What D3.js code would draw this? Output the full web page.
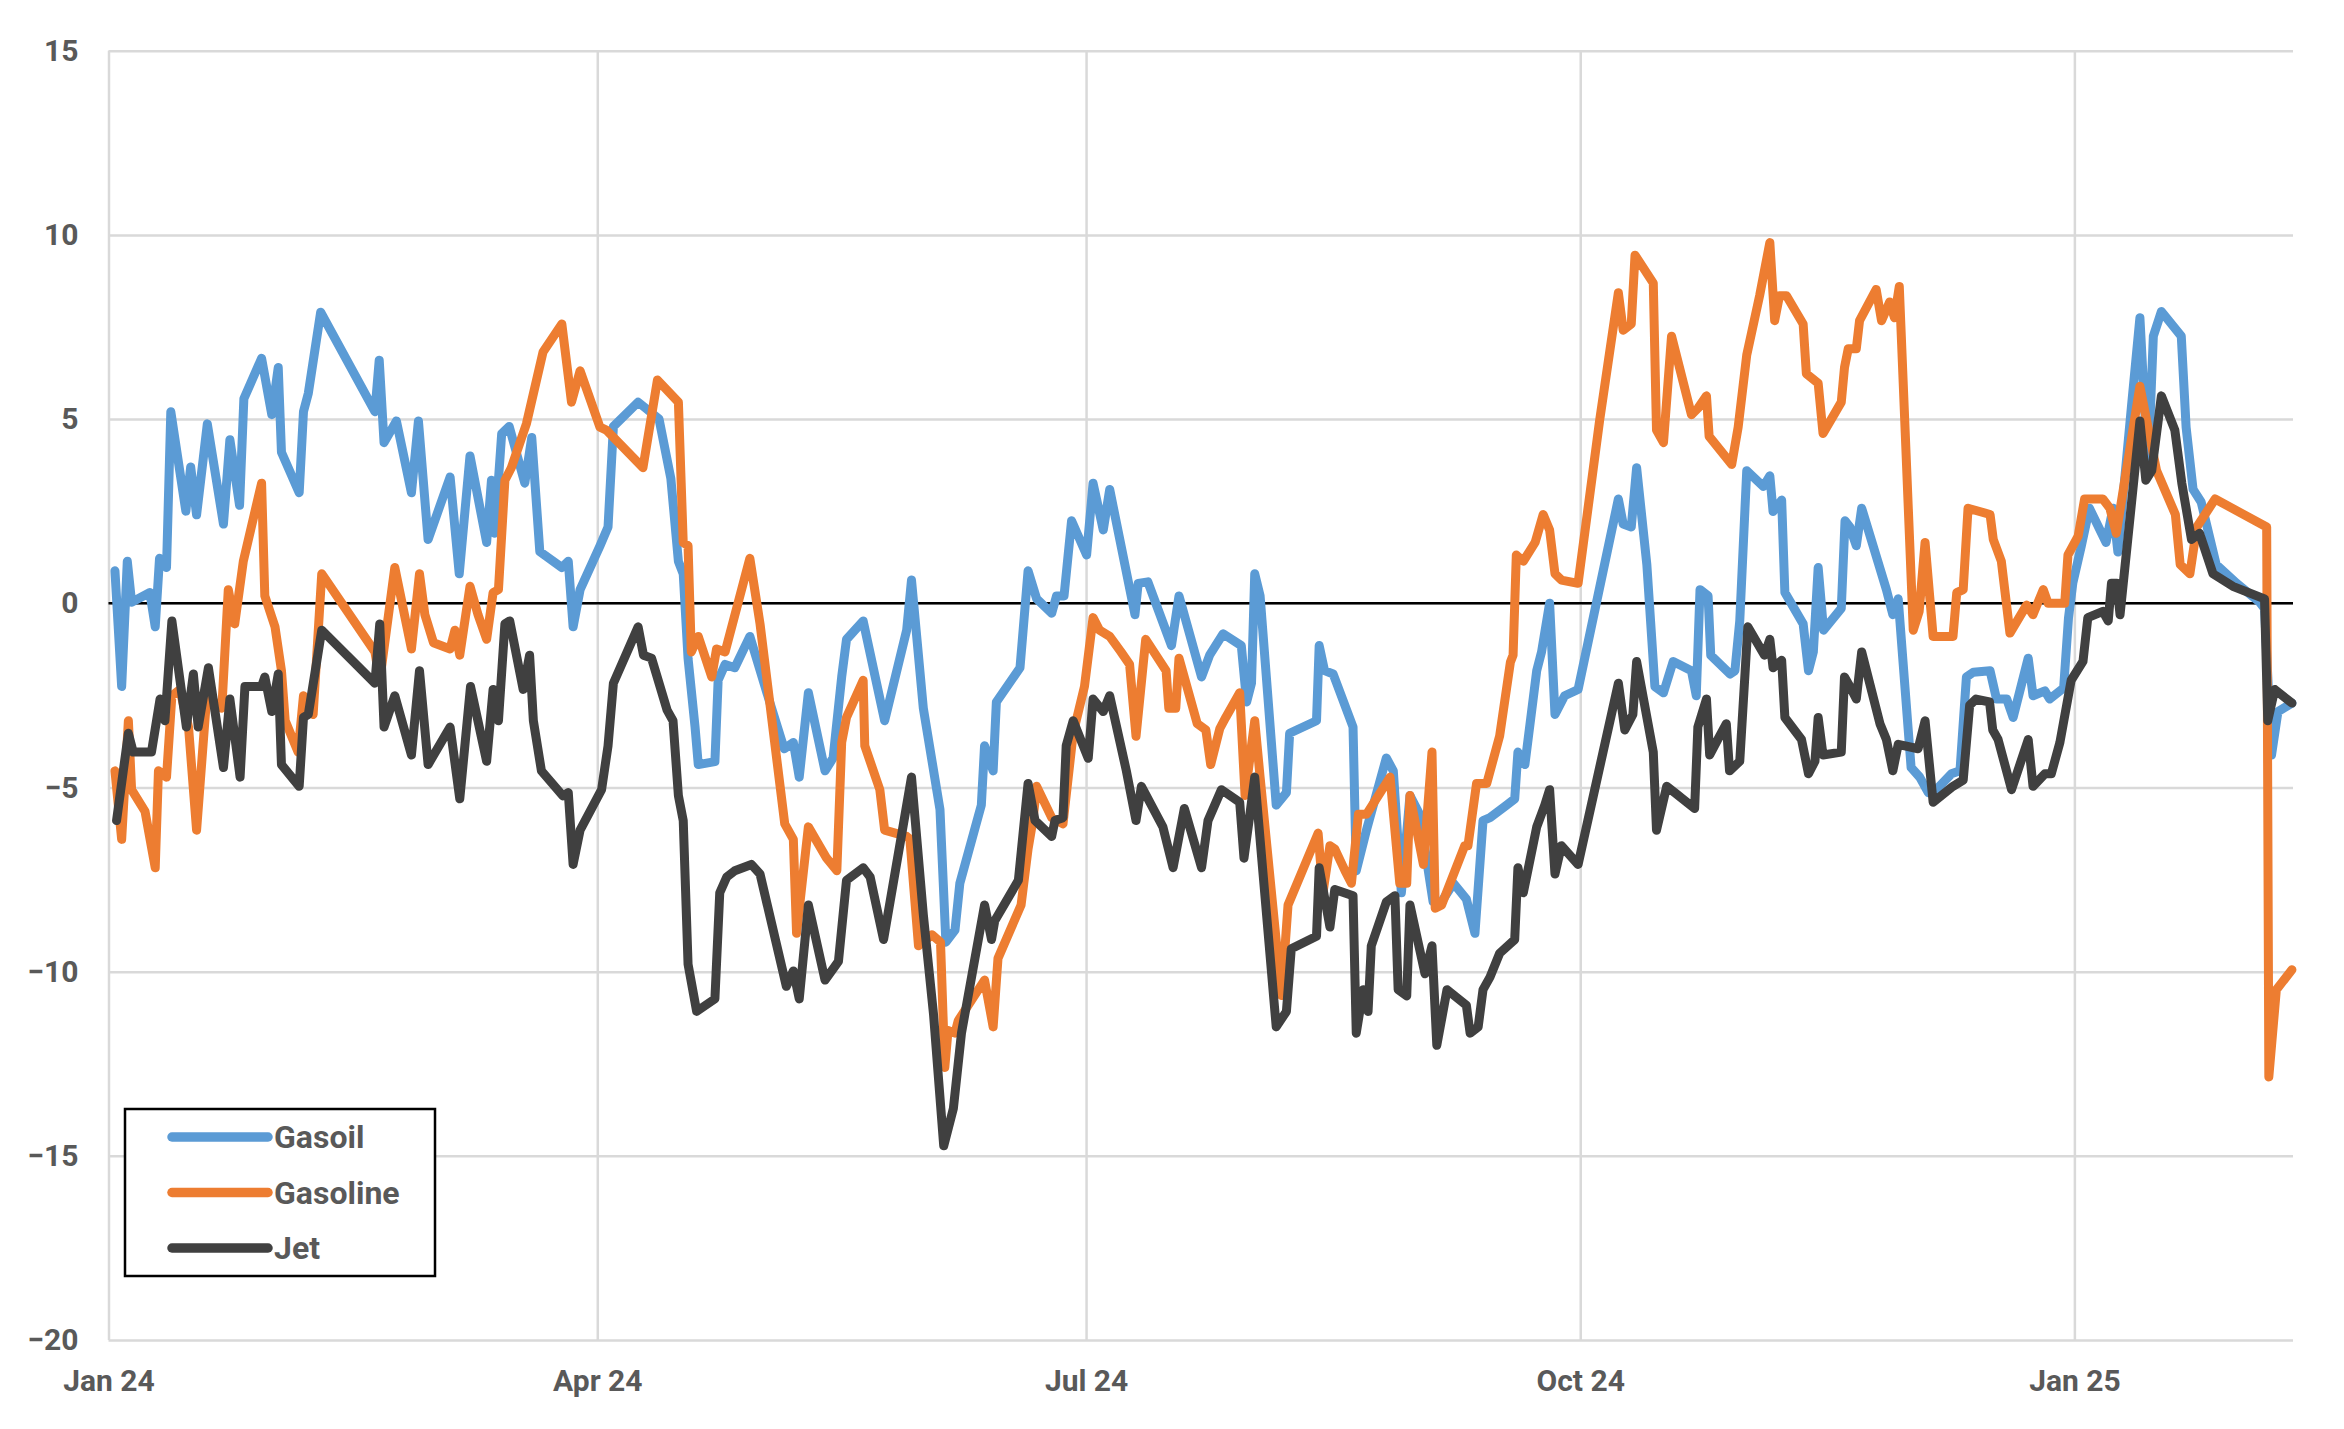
<!DOCTYPE html>
<html>
<head>
<meta charset="utf-8">
<script src="https://cdn.jsdelivr.net/npm/d3@7"></script>
<style>
  body { margin: 0; background: #fff; }
  text { font-family: Roboto, "Noto Sans", sans-serif; }
</style>
</head>
<body>
<div class="chart"></div>
<script>
// days counted from 1 Jan 2024 at each turning point
var gasoilDays = [1.2, 2.45, 3.5, 4.3, 7.7, 8.7, 9.5, 10.8, 11.6, 14.4, 15.3, 16.4, 18.4, 21.4, 22.6, 24.4, 25.2, 28.5, 30.4, 31.6, 32.2, 35.5, 36.3, 37.2, 39.5, 49.6, 50.4, 51.3, 53.6, 56.4, 57.7, 59.5, 63.6, 65.3, 67.3, 70.4, 71.3, 71.9, 73.2, 74.6, 77.5, 78.8, 80.3, 84.4, 85.6, 86.5, 87.8, 91.5, 93.0, 94.0, 98.6, 102.5, 104.7, 106.1, 107.0, 107.9, 109.2, 109.8, 112.9, 113.5, 114.8, 116.6, 119.4, 123.1, 125.8, 127.5, 128.6, 130.3, 133.4, 134.9, 136.5, 137.4, 140.5, 144.5, 148.6, 149.5, 151.7, 154.8, 155.9, 157.6, 158.5, 162.5, 163.1, 164.7, 165.3, 169.7, 171.2, 172.8, 175.6, 176.5, 177.9, 179.3, 182.1, 183.3, 185.2, 186.4, 191.1, 191.7, 193.5, 197.9, 199.3, 203.5, 205.0, 207.5, 210.9, 211.9, 212.8, 213.4, 214.4, 217.4, 219.3, 219.9, 224.9, 225.4, 226.4, 228.0, 231.7, 232.3, 234.2, 237.9, 239.2, 240.7, 242.3, 244.1, 246.6, 248.2, 250.4, 252.8, 254.4, 255.9, 257.2, 260.3, 261.8, 262.4, 263.7, 265.9, 266.8, 268.3, 269.3, 271.1, 273.6, 281.1, 282.0, 283.5, 284.5, 286.4, 287.9, 289.5, 291.3, 294.7, 295.6, 296.3, 297.8, 298.3, 301.9, 302.8, 303.7, 305.0, 308.1, 309.3, 309.9, 311.5, 312.1, 315.5, 316.5, 317.4, 318.3, 319.3, 322.6, 323.3, 324.2, 325.4, 326.4, 331.0, 332.2, 333.2, 335.6, 337.2, 338.8, 340.3, 343.1, 344.7, 345.9, 347.2, 350.3, 351.5, 353.4, 354.6, 357.4, 358.3, 360.5, 361.4, 364.0, 364.9, 365.7, 367.3, 368.8, 371.9, 373.2, 374.1, 376.6, 378.2, 379.7, 380.7, 382.2, 385.9, 386.8, 388.1, 389.6, 392.4, 396.2, 400.5, 401.4, 402.7, 403.9, 406.5];
var gasoilValues = [0.88, -2.26, 1.14, 0.03, 0.29, -0.64, 1.22, 0.97, 5.2, 2.5, 3.7, 2.4, 4.87, 2.15, 4.44, 2.66, 5.55, 6.65, 5.12, 6.4, 4.1, 3.0, 5.2, 5.7, 7.9, 5.2, 6.6, 4.36, 4.95, 3.0, 4.95, 1.73, 3.43, 0.8, 4.0, 1.65, 3.34, 1.9, 4.6, 4.8, 3.26, 4.5, 1.4, 0.97, 1.14, -0.64, 0.37, 1.56, 2.07, 4.8, 5.46, 5.0, 3.38, 1.14, 0.8, -1.5, -3.36, -4.38, -4.3, -2.09, -1.66, -1.75, -0.9, -2.68, -3.95, -3.78, -4.72, -2.43, -4.55, -4.2, -2.0, -0.98, -0.48, -3.19, -0.73, 0.63, -2.85, -5.6, -9.2, -8.87, -7.6, -5.48, -3.87, -4.55, -2.68, -1.75, 0.88, 0.12, -0.27, 0.2, 0.2, 2.24, 1.31, 3.26, 1.99, 3.09, -0.31, 0.54, 0.58, -1.15, 0.2, -2.0, -1.41, -0.83, -1.15, -2.68, -2.17, 0.8, 0.2, -5.48, -5.14, -3.53, -3.19, -1.15, -1.83, -1.92, -3.36, -7.26, -6.16, -4.2, -4.55, -7.86, -5.22, -5.73, -8.1, -8.1, -7.6, -8.03, -8.96, -5.9, -5.82, -5.48, -5.31, -4.04, -4.38, -1.83, -1.32, 0.0, -3.02, -2.51, -2.34, 2.83, 2.15, 2.07, 3.68, 1.05, -2.26, -2.43, -1.58, -1.83, -2.51, 0.37, 0.2, -1.41, -1.92, -1.83, -0.48, 3.6, 3.17, 3.46, 2.49, 2.8, 0.29, -0.56, -1.83, -1.32, 0.97, -0.73, -0.14, 2.24, 2.07, 1.56, 2.58, 0.37, -0.31, 0.12, -4.46, -4.72, -5.14, -5.06, -4.63, -4.55, -2.0, -1.87, -1.83, -2.6, -2.6, -3.1, -1.49, -2.51, -2.38, -2.6, -2.3, -0.4, 0.54, 1.56, 2.58, 1.65, 2.58, 1.39, 5.3, 7.75, 3.6, 7.25, 7.92, 7.25, 4.78, 3.09, 2.75, 1.05, 0.54, 0.03, -0.14, -4.12, -2.94, -2.71];

var gasolineDays = [1.2, 2.45, 3.7, 4.3, 6.8, 8.7, 9.3, 10.8, 11.8, 13.3, 14.9, 16.4, 18.3, 21.1, 22.3, 23.5, 25.1, 28.5, 29.1, 31.0, 32.2, 32.9, 35.3, 36.3, 38.1, 39.7, 49.6, 50.5, 53.3, 56.4, 57.9, 58.9, 60.5, 63.6, 64.5, 65.4, 67.3, 68.8, 70.4, 71.6, 72.6, 73.8, 75.0, 77.8, 80.9, 84.4, 86.2, 87.8, 91.5, 92.7, 99.5, 102.2, 106.1, 107.0, 107.9, 108.5, 109.8, 112.3, 113.2, 114.8, 119.4, 121.3, 125.9, 127.5, 128.1, 130.3, 133.7, 135.6, 136.5, 137.4, 140.5, 140.8, 143.6, 144.5, 148.6, 149.2, 150.8, 153.3, 154.9, 155.7, 156.3, 157.6, 158.2, 163.1, 164.7, 165.6, 169.9, 171.2, 172.1, 172.8, 175.6, 177.7, 179.6, 181.7, 183.3, 184.5, 186.4, 188.5, 190.1, 191.3, 193.1, 196.9, 197.4, 198.7, 199.3, 202.7, 204.3, 205.2, 206.9, 208.0, 210.6, 211.6, 212.5, 213.4, 214.4, 218.4, 219.6, 225.2, 226.1, 227.4, 228.3, 230.2, 231.4, 232.7, 234.2, 238.6, 240.4, 241.7, 242.3, 244.8, 246.4, 247.0, 248.2, 252.5, 253.1, 254.7, 256.6, 259.0, 261.0, 261.5, 262.1, 263.4, 265.6, 267.1, 268.3, 269.3, 270.5, 273.6, 277.6, 281.1, 282.0, 283.5, 284.2, 287.6, 288.2, 289.5, 291.0, 294.7, 295.9, 297.5, 298.0, 302.2, 303.4, 305.0, 307.4, 309.3, 310.2, 311.1, 312.4, 315.5, 316.1, 318.3, 319.2, 322.6, 323.2, 323.9, 325.4, 326.0, 329.1, 330.1, 331.6, 332.5, 333.4, 336.0, 337.1, 338.2, 339.7, 343.4, 344.1, 345.3, 346.2, 350.3, 350.9, 352.4, 354.0, 357.1, 358.3, 360.2, 361.1, 364.2, 364.8, 366.7, 367.9, 371.3, 372.6, 373.8, 378.2, 381.3, 384.8, 385.7, 387.5, 388.8, 392.2, 401.8, 402.2, 403.6, 406.5];
var gasolineValues = [-4.55, -6.41, -3.19, -5.06, -5.65, -7.18, -4.55, -4.72, -2.51, -2.34, -3.36, -6.16, -2.51, -2.85, 0.37, -0.56, 1.14, 3.26, 0.2, -0.64, -1.83, -3.19, -4.04, -2.51, -3.02, 0.8, -1.32, -2.1, 0.97, -1.24, 0.8, -0.31, -1.07, -1.24, -0.73, -1.41, 0.46, -0.31, -0.98, 0.29, 0.37, 3.34, 3.68, 4.87, 6.82, 7.58, 5.46, 6.31, 4.78, 4.7, 3.68, 6.06, 5.46, 1.65, 1.56, -1.32, -0.9, -2.0, -1.24, -1.32, 1.22, -0.56, -5.99, -6.41, -8.96, -6.07, -6.92, -7.26, -3.78, -3.1, -2.09, -3.87, -5.06, -6.16, -6.33, -6.4, -9.3, -9.0, -9.2, -12.6, -11.6, -11.67, -11.33, -10.23, -11.5, -9.64, -8.19, -6.67, -5.9, -4.97, -5.82, -5.99, -3.53, -2.26, -0.39, -0.73, -0.9, -1.32, -1.66, -3.61, -0.98, -1.83, -2.85, -2.85, -1.49, -3.27, -3.44, -4.38, -3.4, -3.1, -2.43, -5.22, -4.2, -3.19, -4.72, -10.65, -8.19, -6.24, -7.86, -6.58, -6.67, -7.26, -7.6, -5.73, -5.73, -4.72, -7.6, -7.6, -5.22, -7.09, -4.04, -8.28, -8.19, -6.58, -6.58, -4.89, -4.89, -3.6, -1.6, -1.41, 1.31, 1.14, 1.65, 2.41, 1.99, 0.8, 0.63, 0.54, 4.95, 8.43, 7.41, 7.58, 9.45, 8.69, 4.7, 4.36, 7.25, 5.12, 5.29, 5.63, 4.53, 3.77, 4.78, 6.74, 8.35, 9.79, 7.67, 8.35, 8.35, 7.58, 6.23, 5.97, 4.61, 5.46, 6.4, 6.91, 6.91, 7.67, 8.52, 7.67, 8.18, 7.75, 8.6, -0.73, -0.22, 1.65, -0.9, -0.9, 0.29, 0.37, 2.58, 2.41, 1.73, 1.14, -0.81, -0.05, -0.31, 0.37, 0.0, 0.0, 1.31, 1.82, 2.83, 2.83, 2.58, 1.9, 5.89, 3.6, 2.41, 1.05, 0.8, 2.07, 2.83, 2.07, -12.86, -10.49, -9.95];

var jetDays = [1.5, 3.7, 4.6, 8.0, 9.6, 10.5, 11.8, 14.5, 15.8, 16.7, 18.6, 21.4, 22.6, 24.5, 25.4, 28.5, 29.1, 30.4, 31.6, 32.2, 35.5, 36.3, 37.2, 39.7, 49.6, 50.5, 51.3, 53.3, 56.4, 57.9, 59.5, 63.6, 65.4, 67.4, 70.4, 71.6, 72.6, 73.8, 74.7, 77.2, 78.4, 79.1, 80.6, 84.6, 85.6, 86.5, 87.8, 91.8, 93.0, 94.0, 98.6, 99.6, 101.1, 104.0, 105.1, 106.1, 107.0, 107.9, 109.5, 112.9, 113.8, 115.1, 116.6, 119.7, 121.3, 126.2, 127.5, 128.6, 130.3, 133.4, 135.9, 137.4, 140.5, 141.8, 144.3, 149.5, 151.7, 153.6, 155.5, 157.3, 158.8, 163.1, 164.4, 165.0, 169.4, 171.2, 172.5, 175.6, 176.2, 177.7, 178.3, 179.6, 182.4, 183.3, 185.2, 186.4, 189.5, 191.3, 192.3, 196.3, 198.2, 200.3, 203.5, 204.7, 207.2, 210.6, 211.4, 212.5, 213.4, 217.4, 219.3, 220.2, 224.9, 225.4, 227.4, 228.3, 231.7, 232.3, 233.6, 234.5, 235.1, 237.9, 239.5, 240.1, 241.7, 242.3, 245.1, 246.4, 247.3, 249.2, 252.8, 253.5, 255.0, 255.9, 257.2, 259.0, 261.8, 262.4, 263.4, 265.9, 267.4, 268.3, 269.3, 270.5, 273.6, 281.1, 282.3, 283.8, 284.5, 287.6, 288.2, 290.1, 291.6, 295.3, 295.9, 297.5, 298.1, 299.6, 301.2, 301.8, 303.7, 305.2, 308.3, 309.3, 309.9, 311.5, 312.1, 315.2, 316.5, 317.7, 318.3, 319.2, 322.6, 323.2, 324.2, 325.4, 326.4, 329.8, 331.0, 332.2, 333.2, 336.9, 338.2, 339.7, 343.4, 345.3, 346.5, 347.7, 350.2, 350.8, 351.8, 354.3, 357.4, 358.3, 360.5, 361.7, 363.3, 365.4, 367.6, 368.5, 371.3, 372.3, 372.9, 373.9, 374.5, 378.2, 379.3, 380.4, 382.2, 384.7, 386.0, 387.8, 389.3, 391.8, 395.5, 401.4, 402.0, 403.3, 406.5];
var jetValues = [-5.9, -3.53, -4.04, -4.04, -2.6, -3.19, -0.48, -3.36, -1.92, -3.36, -1.75, -4.46, -2.6, -4.72, -2.26, -2.26, -2.0, -2.94, -1.92, -4.38, -4.97, -3.1, -3.02, -0.73, -2.17, -0.56, -3.36, -2.51, -4.12, -1.83, -4.38, -3.36, -5.31, -2.26, -4.29, -2.34, -3.19, -0.56, -0.48, -2.34, -1.41, -3.19, -4.55, -5.23, -5.14, -7.09, -6.16, -5.06, -3.87, -2.17, -0.64, -1.41, -1.49, -2.9, -3.19, -5.22, -5.9, -9.8, -11.08, -10.74, -7.86, -7.43, -7.26, -7.09, -7.35, -10.4, -9.98, -10.74, -8.19, -10.23, -9.72, -7.52, -7.18, -7.43, -9.13, -4.72, -8.45, -11.16, -14.73, -13.71, -11.67, -8.19, -9.13, -8.62, -7.52, -4.89, -5.9, -6.33, -5.9, -5.82, -3.87, -3.19, -4.21, -2.6, -2.94, -2.51, -4.55, -5.9, -4.97, -6.07, -7.18, -5.57, -7.18, -5.9, -5.06, -5.4, -6.92, -5.73, -4.72, -11.5, -11.08, -9.38, -9.04, -7.18, -8.79, -7.77, -7.94, -11.67, -10.49, -11.08, -9.3, -8.11, -7.94, -10.49, -10.66, -8.19, -10.06, -9.3, -12.0, -10.49, -10.91, -11.67, -11.5, -10.49, -10.15, -9.5, -9.13, -7.18, -7.86, -6.07, -5.48, -5.06, -7.35, -6.58, -7.09, -2.17, -3.44, -3.02, -1.58, -4.04, -6.16, -4.97, -5.14, -5.57, -3.36, -2.6, -4.12, -3.7, -3.27, -4.55, -4.29, -0.64, -1.41, -0.98, -1.75, -1.55, -3.1, -3.7, -4.63, -4.29, -3.1, -4.12, -4.04, -2.0, -2.26, -2.6, -1.32, -3.27, -3.7, -4.55, -3.83, -3.95, -3.19, -5.4, -4.97, -4.8, -2.77, -2.6, -2.68, -3.44, -3.7, -5.06, -3.7, -4.97, -4.63, -4.63, -3.78, -2.09, -1.58, -0.39, -0.22, -0.48, 0.54, 0.54, -0.31, 4.95, 3.34, 3.6, 5.63, 4.7, 3.26, 1.73, 1.9, 0.8, 0.46, 0.12, -3.19, -2.34, -2.71];

var seriesNames = ["Gasoil", "Gasoline", "Jet"];
var seriesColors = ["#5b9bd5", "#ed7d31", "#404040"];

var yTicks = [-20, -15, -10, -5, 0, 5, 10, 15];
var tickDates = ["2024-01-01", "2024-04-01", "2024-07-01", "2024-10-01", "2025-01-01"];
var tickLabels = ["Jan 24", "Apr 24", "Jul 24", "Oct 24", "Jan 25"];

//canvas
var svgWidth = 2344;
var svgHeight = 1429;

var margin = { top: 50.7, right: 51, bottom: 89, left: 108.5 };
var width = svgWidth - margin.left - margin.right;
var height = svgHeight - margin.top - margin.bottom;

var svg = d3
  .select(".chart")
  .append("svg")
  .attr("width", svgWidth)
  .attr("height", svgHeight);

var chartGroup = svg
  .append("g")
  .attr("transform", `translate(${margin.left}, ${margin.top})`);

var start = Date.UTC(2024, 0, 1);
function dayToDate(d) {
  return new Date(start + d * 864e5);
}

// x runs a bit past the last data day
var xScale = d3
  .scaleUtc()
  .domain([dayToDate(0), dayToDate(406.7)])
  .range([0, width]);

var yScale = d3.scaleLinear().domain([-20, 15]).range([height, 0]);

// gridlines + labels through the axes
var bottomAxis = d3
  .axisBottom(xScale)
  .tickValues(tickDates.map((d) => new Date(d + "T00:00:00Z")))
  .tickFormat((d, i) => tickLabels[i])
  .tickSize(-height)
  .tickPadding(30);

var leftAxis = d3
  .axisLeft(yScale)
  .tickValues(yTicks)
  .tickFormat(d3.format("d"))
  .tickSize(-width)
  .tickPadding(30);

var yAxis = chartGroup.append("g").call(leftAxis);
var xAxis = chartGroup
  .append("g")
  .attr("transform", `translate(0, ${height})`)
  .call(bottomAxis);

[xAxis, yAxis].forEach(function (ax) {
  ax.select(".domain").remove();
  ax.selectAll(".tick line").attr("stroke", "#d9d9d9").attr("stroke-width", 2.5);
  ax.selectAll(".tick text")
    .attr("fill", "#595959")
    .style("font-size", "30px")
    .style("font-weight", "700")
    .style("font-family", "Roboto, sans-serif");
});

// zero line
chartGroup
  .append("line")
  .attr("x1", 0)
  .attr("x2", width)
  .attr("y1", yScale(0))
  .attr("y2", yScale(0))
  .attr("stroke", "#000")
  .attr("stroke-width", 2.5);

var series = [
  { days: gasoilDays, values: gasoilValues },
  { days: gasolineDays, values: gasolineValues },
  { days: jetDays, values: jetValues },
];

var line = d3
  .line()
  .x((d) => xScale(dayToDate(d[0])))
  .y((d) => yScale(d[1]));

series.forEach(function (s, i) {
  var pts = s.days.map((d, j) => [d, s.values[j]]);
  chartGroup
    .append("path")
    .datum(pts)
    .attr("d", line)
    .attr("fill", "none")
    .attr("stroke", seriesColors[i])
    .attr("stroke-width", 9)
    .attr("stroke-linejoin", "round")
    .attr("stroke-linecap", "round");
});

// legend box
var legend = svg.append("g").attr("transform", "translate(125, 1109)");

legend
  .append("rect")
  .attr("width", 310)
  .attr("height", 167)
  .attr("fill", "#fff")
  .attr("stroke", "#000")
  .attr("stroke-width", 2.5);

seriesNames.forEach(function (name, i) {
  var ly = 28 + i * 55.5;
  legend
    .append("line")
    .attr("x1", 47)
    .attr("x2", 143)
    .attr("y1", ly)
    .attr("y2", ly)
    .attr("stroke", seriesColors[i])
    .attr("stroke-width", 9.5)
    .attr("stroke-linecap", "round");
  legend
    .append("text")
    .attr("x", 149)
    .attr("y", ly)
    .attr("dy", "0.35em")
    .attr("fill", "#595959")
    .style("font-size", "32px")
    .style("font-weight", "700")
    .text(name);
});
</script>
</body>
</html>
